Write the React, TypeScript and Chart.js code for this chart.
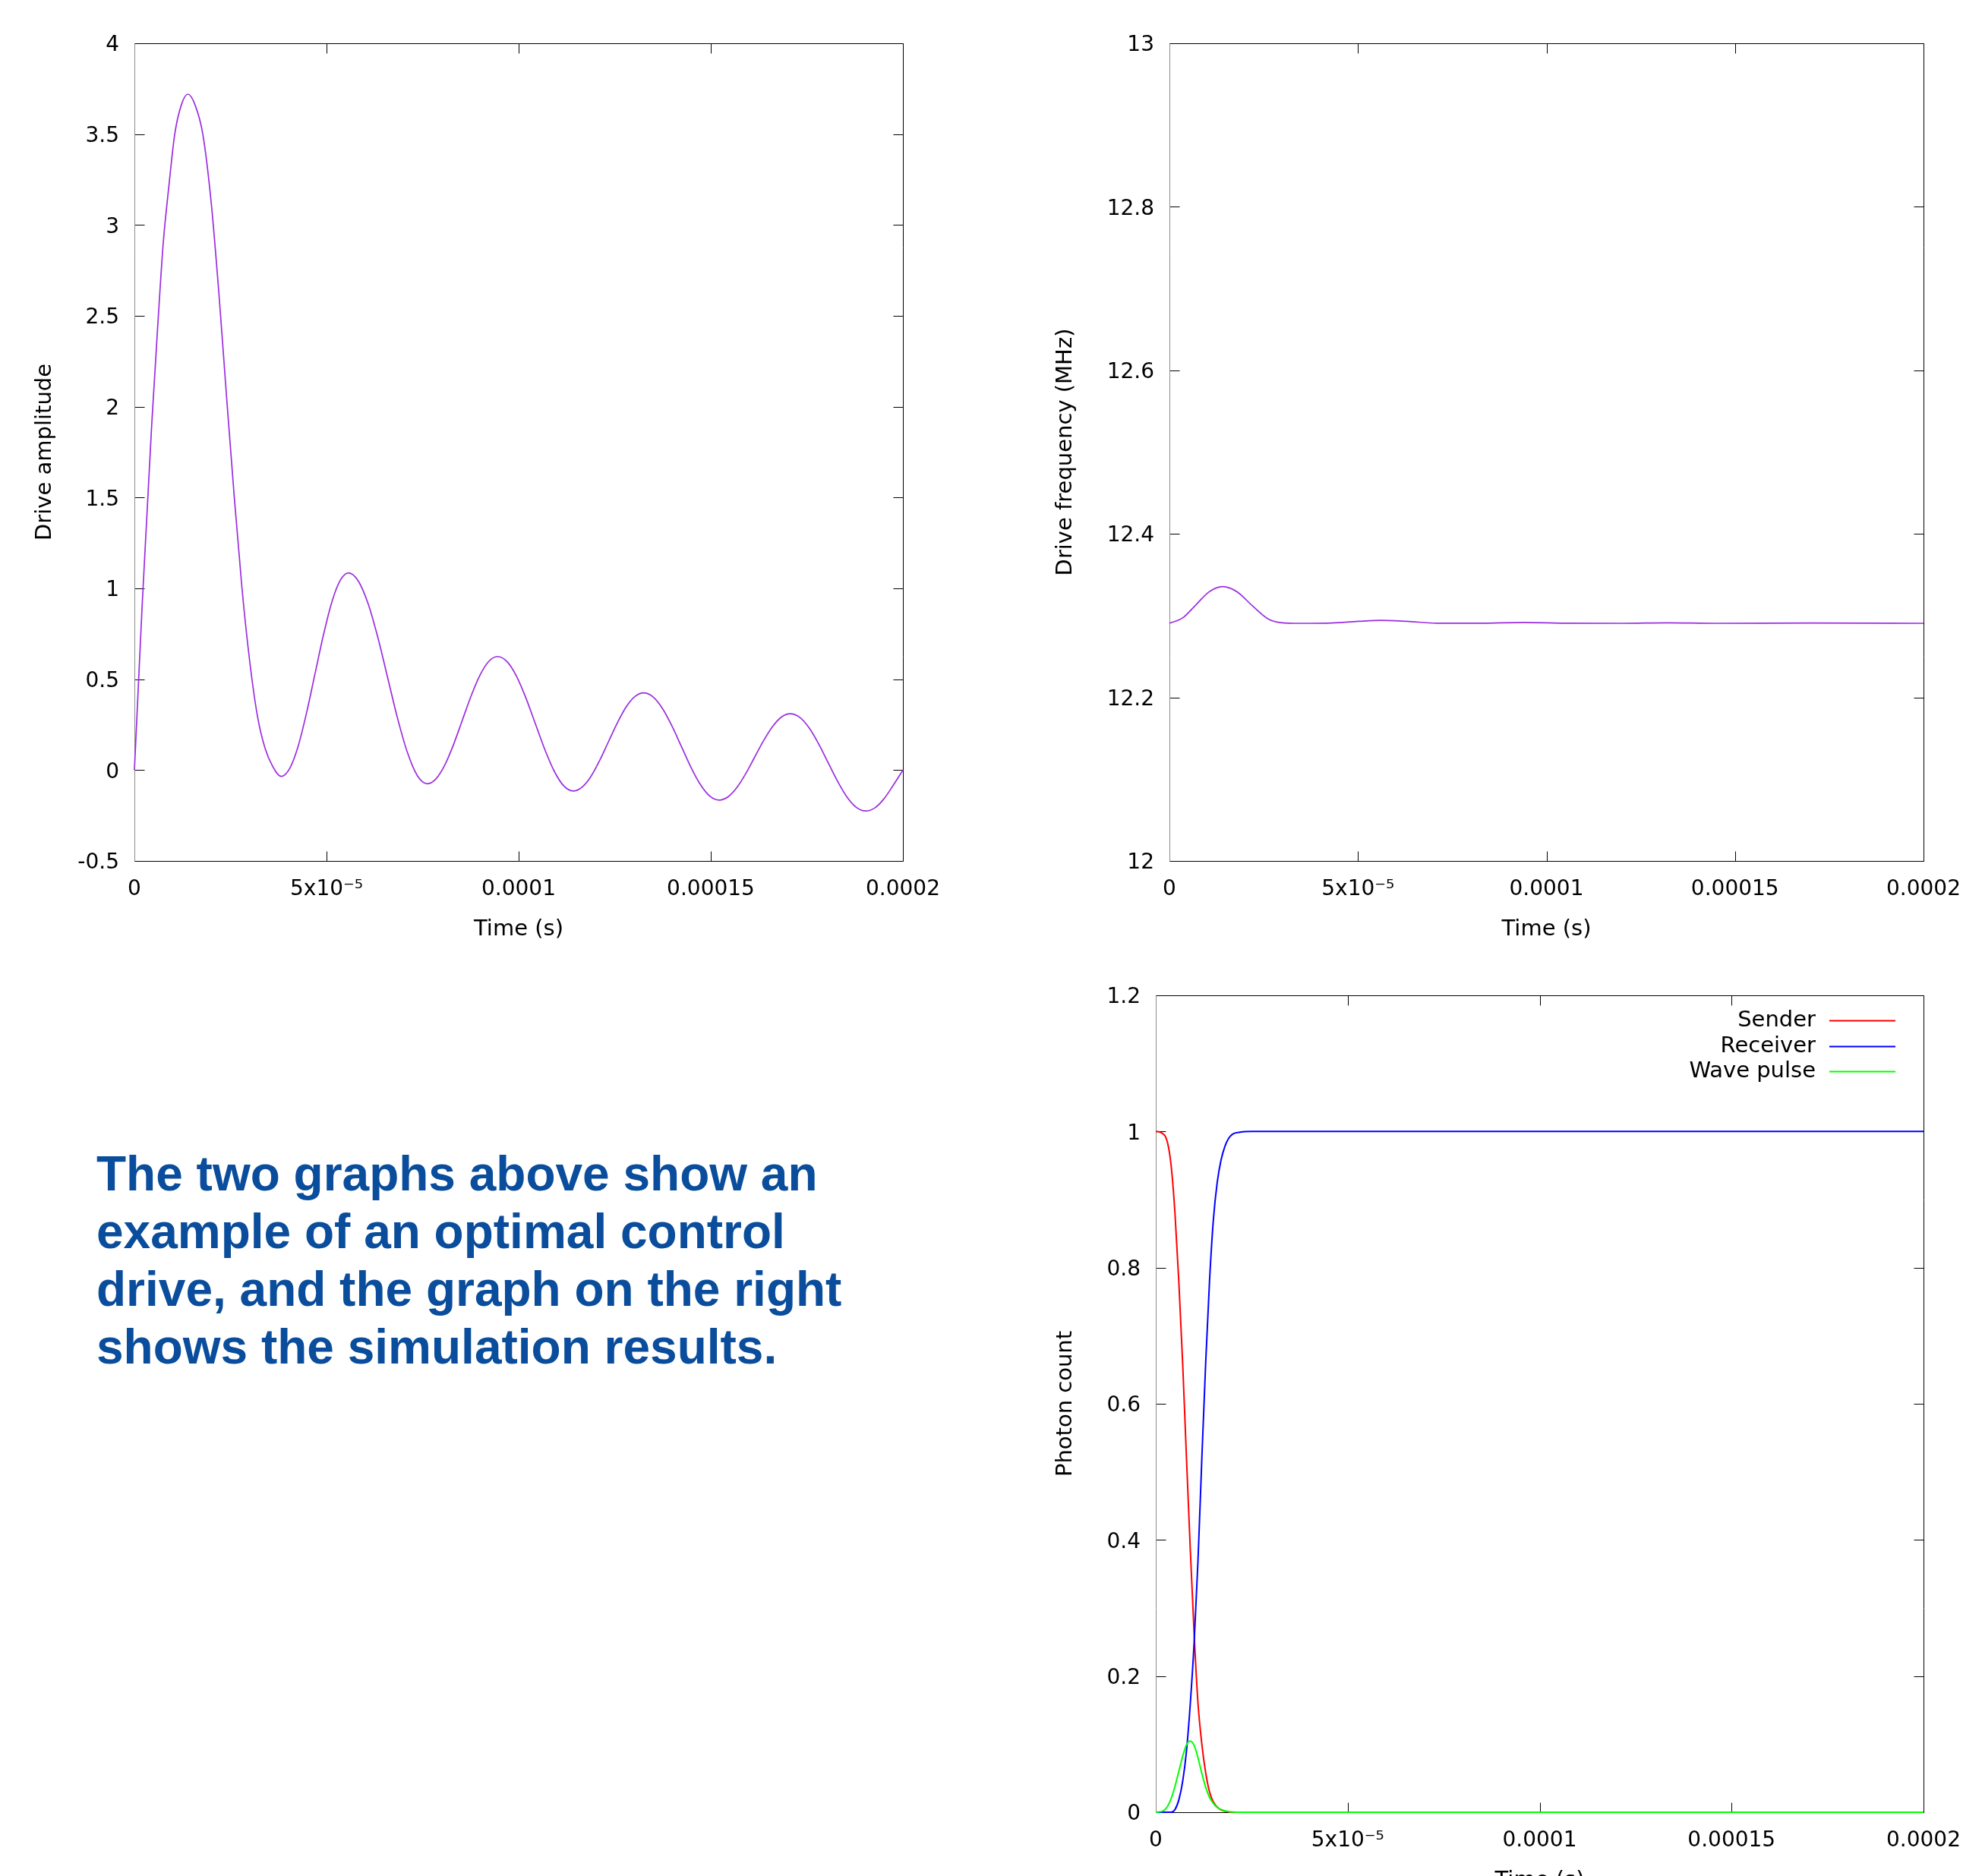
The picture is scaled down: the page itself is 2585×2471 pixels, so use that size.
import React, { useEffect, useRef } from 'react';
import { Chart, registerables } from 'chart.js';

Chart.register(...registerables);

const FONT = "'DejaVu Sans', sans-serif";
const FONT_SIZE = 28;
const TITLE_SIZE = 29;

// ---------- shared time axis (values in units of 1e-5 s) ----------
const timeTicks = [0, 5, 10, 15, 20];
const timeTickLabels = ['0', '5x10⁻⁵', '0.0001', '0.00015', '0.0002'];

// ---------- Drive amplitude ----------
const ampTicks = [-0.5, 0, 0.5, 1, 1.5, 2, 2.5, 3, 3.5, 4];
const ampTickLabels = ['-0.5', '0', '0.5', '1', '1.5', '2', '2.5', '3', '3.5', '4'];
const ampTime = [
  0, 0.1, 0.2, 0.33, 0.45, 0.6, 0.75, 0.9, 1.05, 1.22, 1.39, 1.58, 1.78, 2.0, 2.2, 2.4, 2.6,
  2.8, 3.0, 3.2, 3.4, 3.6, 3.82,
  4.039, 4.258, 4.476, 4.695, 4.914, 5.133, 5.351, 5.57,
  5.826, 6.083, 6.339, 6.595, 6.851, 7.108, 7.364, 7.62,
  7.849, 8.078, 8.306, 8.535, 8.764, 8.993, 9.221, 9.45,
  9.696, 9.943, 10.189, 10.435, 10.681, 10.928, 11.174, 11.42,
  11.649, 11.878, 12.106, 12.335, 12.564, 12.793, 13.021, 13.25,
  13.496, 13.743, 13.989, 14.235, 14.481, 14.728, 14.974, 15.22,
  15.451, 15.683, 15.914, 16.145, 16.376, 16.608, 16.839, 17.07,
  17.315, 17.56, 17.805, 18.05, 18.295, 18.54, 18.785, 19.03,
  19.27, 19.5, 19.75, 20.0,
];
const ampValue = [
  0, 0.45, 0.9, 1.42, 1.9, 2.42, 2.9, 3.22, 3.5, 3.66, 3.72, 3.66, 3.5, 3.12, 2.62, 2.05, 1.5,
  1.0, 0.6, 0.3, 0.12, 0.02, -0.035,
  0.008, 0.129, 0.311, 0.525, 0.739, 0.921, 1.042, 1.085,
  1.041, 0.915, 0.727, 0.505, 0.283, 0.095, -0.031, -0.075,
  -0.048, 0.028, 0.141, 0.275, 0.409, 0.522, 0.598, 0.625,
  0.597, 0.517, 0.397, 0.255, 0.113, -0.007, -0.087, -0.115,
  -0.094, -0.036, 0.052, 0.155, 0.258, 0.346, 0.404, 0.425,
  0.403, 0.339, 0.243, 0.13, 0.017, -0.079, -0.143, -0.165,
  -0.147, -0.095, -0.018, 0.0725, 0.163, 0.24, 0.292, 0.31,
  0.29, 0.232, 0.145, 0.0425, -0.06, -0.147, -0.205, -0.225,
  -0.208, -0.16, -0.083, 0.0,
];

// ---------- Drive frequency ----------
const freqTicks = [12, 12.2, 12.4, 12.6, 12.8, 13];
const freqTickLabels = ['12', '12.2', '12.4', '12.6', '12.8', '13'];
const freqTime = [
  0, 0.35, 0.7, 1.05, 1.41, 1.8, 2.2, 2.6, 2.95, 3.5, 4.3, 5.0, 5.6, 6.3, 7.1, 8.2,
  9.4, 10.6, 12.0, 13.2, 14.5, 17.0, 20.0,
];
const freqValue = [
  12.2906, 12.2972, 12.3131, 12.329, 12.3355, 12.329, 12.312, 12.2965, 12.2915, 12.2906,
  12.291, 12.293, 12.2942, 12.293, 12.2908, 12.2907, 12.2917, 12.2907, 12.2906, 12.2912,
  12.2906, 12.2909, 12.2906,
];

// ---------- Photon count ----------
const photonTicks = [0, 0.2, 0.4, 0.6, 0.8, 1, 1.2];
const photonTickLabels = ['0', '0.2', '0.4', '0.6', '0.8', '1', '1.2'];
const seriesNames = ['Sender', 'Receiver', 'Wave pulse'];
const seriesColors = ['#ff0000', '#0000ff', '#00ff00'];
const senderTime = [
  0, 0.15, 0.3, 0.4, 0.5, 0.6, 0.7, 0.8, 0.9, 1.006, 1.1, 1.2, 1.3, 1.4, 1.5, 1.65, 1.85,
  2.0, 5, 10, 15, 20,
];
const senderValue = [
  1.0, 0.998, 0.985, 0.95, 0.88, 0.78, 0.66, 0.52, 0.385, 0.254, 0.16, 0.1, 0.058, 0.03,
  0.015, 0.005, 0.001, 0, 0, 0, 0, 0,
];
const receiverTime = [
  0, 0.4, 0.5, 0.6, 0.7, 0.8, 0.9, 1.0, 1.1, 1.2, 1.3, 1.4, 1.5, 1.6, 1.7, 1.8, 1.9, 2.0,
  2.2, 2.5, 5, 10, 15, 20,
];
const receiverValue = [
  0, 0, 0.004, 0.018, 0.045, 0.09, 0.16, 0.25, 0.37, 0.52, 0.66, 0.78, 0.87, 0.925, 0.958,
  0.978, 0.99, 0.996, 0.999, 1.0, 1.0, 1.0, 1.0, 1.0,
];
const pulseTime = [
  0, 0.2, 0.3, 0.4, 0.5, 0.6, 0.7, 0.8, 0.89, 1.0, 1.1, 1.2, 1.3, 1.4, 1.5, 1.6, 1.8, 2.1,
  5, 10, 15, 20,
];
const pulseValue = [
  0, 0.002, 0.008, 0.02, 0.038, 0.06, 0.082, 0.099, 0.1045, 0.098, 0.08, 0.057, 0.037,
  0.022, 0.013, 0.007, 0.002, 0, 0, 0, 0, 0,
];

const mainText = [
  'The two graphs above show an',
  'example of an optimal control',
  'drive, and the graph on the right',
  'shows the simulation results.',
];

// ---------- helpers ----------
const toPoints = (xs: number[], ys: number[]) => xs.map((x, i) => ({ x, y: ys[i] }));

const framePlugin = {
  id: 'gnuFrame',
  beforeDatasetsDraw(chart: any) {
    const { ctx, chartArea: a, scales } = chart;
    const L = Math.round(a.left) + 0.5;
    const R = Math.round(a.right) + 0.5;
    const T = Math.round(a.top) + 0.5;
    const B = Math.round(a.bottom) + 0.5;
    const len = 13;
    ctx.save();
    ctx.lineWidth = 1;
    ctx.strokeStyle = '#000';
    ctx.beginPath();
    for (const t of scales.x.ticks) {
      const px = Math.round(scales.x.getPixelForValue(t.value)) + 0.5;
      ctx.moveTo(px, B);
      ctx.lineTo(px, B - len);
      ctx.moveTo(px, T);
      ctx.lineTo(px, T + len);
    }
    for (const t of scales.y.ticks) {
      const py = Math.round(scales.y.getPixelForValue(t.value)) + 0.5;
      ctx.moveTo(L, py);
      ctx.lineTo(L + len, py);
      ctx.moveTo(R, py);
      ctx.lineTo(R - len, py);
    }
    ctx.stroke();
    ctx.beginPath();
    ctx.moveTo(L, T);
    ctx.lineTo(R, T);
    ctx.lineTo(R, B);
    ctx.lineTo(L, B);
    ctx.stroke();
    ctx.strokeStyle = '#8c8c8c';
    ctx.beginPath();
    ctx.moveTo(L, T);
    ctx.lineTo(L, B);
    ctx.stroke();
    ctx.restore();
  },
};

const makeKeyPlugin = () => ({
  id: 'gnuKey',
  afterDatasetsDraw(chart: any) {
    const { ctx, chartArea: a } = chart;
    ctx.save();
    ctx.font = `${TITLE_SIZE}px ${FONT}`;
    ctx.textAlign = 'right';
    ctx.textBaseline = 'middle';
    ctx.fillStyle = '#000';
    chart.data.datasets.forEach((ds: any, i: number) => {
      const y = Math.round(a.top + 33 + i * 33.5) + 0.5;
      const lineEnd = a.right - 37;
      const lineStart = lineEnd - 87;
      ctx.fillText(ds.label, lineStart - 18, y);
      ctx.strokeStyle = ds.borderColor;
      ctx.lineWidth = 2;
      ctx.beginPath();
      ctx.moveTo(lineStart, y);
      ctx.lineTo(lineEnd, y);
      ctx.stroke();
    });
    ctx.restore();
  },
});

type Opts = {
  datasets: any[];
  yMin: number;
  yMax: number;
  yTicks: number[];
  yTickLabels: string[];
  yTitle: string;
  yWidth: number;
  yTitlePad: number;
  pad: { left: number; top: number; right: number; bottom: number };
  key?: boolean;
};

const X_HEIGHT = 110;

function buildConfig(o: Opts): any {
  const font = { family: FONT, size: FONT_SIZE };
  const titleFont = { family: FONT, size: TITLE_SIZE };
  const plugins: any[] = [framePlugin];
  if (o.key) plugins.push(makeKeyPlugin());
  return {
    type: 'line',
    data: { datasets: o.datasets },
    options: {
      responsive: false,
      animation: false,
      devicePixelRatio: 1,
      layout: { padding: o.pad },
      plugins: { legend: { display: false }, tooltip: { enabled: false } },
      elements: {
        point: { radius: 0 },
        line: { borderWidth: 2, cubicInterpolationMode: 'monotone' },
      },
      scales: {
        x: {
          type: 'linear',
          min: 0,
          max: 20,
          afterBuildTicks: (s: any) => {
            s.ticks = timeTicks.map((v) => ({ value: v }));
          },
          afterFit: (s: any) => {
            s.height = X_HEIGHT;
          },
          ticks: {
            callback: (_v: any, i: number) => timeTickLabels[i],
            padding: 21,
            maxRotation: 0,
            minRotation: 0,
            autoSkip: false,
            color: '#000',
            font,
          },
          grid: { display: false, drawTicks: false },
          border: { display: false },
          title: {
            display: true,
            text: 'Time (s)',
            color: '#000',
            font: titleFont,
            padding: { top: 0, bottom: 2 },
          },
        },
        y: {
          type: 'linear',
          min: o.yMin,
          max: o.yMax,
          afterBuildTicks: (s: any) => {
            s.ticks = o.yTicks.map((v) => ({ value: v }));
          },
          afterFit: (s: any) => {
            s.width = o.yWidth;
          },
          ticks: {
            callback: (_v: any, i: number) => o.yTickLabels[i],
            padding: 20,
            labelOffset: 3,
            autoSkip: false,
            color: '#000',
            font,
          },
          grid: { display: false, drawTicks: false },
          border: { display: false },
          title: {
            display: true,
            text: o.yTitle,
            color: '#000',
            font: titleFont,
            padding: { top: o.yTitlePad, bottom: 0 },
          },
        },
      },
    },
    plugins,
  };
}

function Plot(props: { left: number; top: number; width: number; height: number; opts: Opts }) {
  const ref = useRef<HTMLCanvasElement | null>(null);
  useEffect(() => {
    if (!ref.current) return;
    const chart = new Chart(ref.current, buildConfig(props.opts));
    return () => chart.destroy();
  }, []);
  return (
    <canvas
      ref={ref}
      width={props.width}
      height={props.height}
      style={{
        position: 'absolute',
        left: props.left,
        top: props.top,
        width: props.width,
        height: props.height,
        display: 'block',
      }}
    />
  );
}

const purple = '#9b2de0';

export default function App() {
  const ampOpts: Opts = {
    datasets: [
      {
        label: 'Drive amplitude',
        data: toPoints(ampTime, ampValue),
        borderColor: purple,
        borderWidth: 1.7,
        clip: 4,
      },
    ],
    yMin: -0.5,
    yMax: 4,
    yTicks: ampTicks,
    yTickLabels: ampTickLabels,
    yTitle: 'Drive amplitude',
    yWidth: 177,
    yTitlePad: 42,
    pad: { left: 0, top: 57, right: 111, bottom: 1260 - 1134 - X_HEIGHT },
  };
  const freqOpts: Opts = {
    datasets: [
      {
        label: 'Drive frequency',
        data: toPoints(freqTime, freqValue),
        borderColor: purple,
        borderWidth: 1.7,
        clip: 4,
      },
    ],
    yMin: 12,
    yMax: 13,
    yTicks: freqTicks,
    yTickLabels: freqTickLabels,
    yTitle: 'Drive frequency (MHz)',
    yWidth: 240,
    yTitlePad: 86,
    pad: { left: 0, top: 57, right: 152, bottom: 1260 - 1134 - X_HEIGHT },
  };
  const photonOpts: Opts = {
    datasets: [
      {
        label: seriesNames[0],
        data: toPoints(senderTime, senderValue),
        borderColor: seriesColors[0],
        clip: 4,
        order: 2,
      },
      {
        label: seriesNames[1],
        data: toPoints(receiverTime, receiverValue),
        borderColor: seriesColors[1],
        clip: 4,
        order: 1,
      },
      {
        label: seriesNames[2],
        data: toPoints(pulseTime, pulseValue),
        borderColor: seriesColors[2],
        clip: 4,
        order: 0,
      },
    ],
    yMin: 0,
    yMax: 1.2,
    yTicks: photonTicks,
    yTickLabels: photonTickLabels,
    yTitle: 'Photon count',
    yWidth: 222,
    yTitlePad: 86,
    pad: { left: 0, top: 51, right: 152, bottom: 1300 - 1127 - X_HEIGHT },
    key: true,
  };

  return (
    <div
      style={{
        position: 'fixed',
        left: 0,
        top: 0,
        width: 2585,
        height: 2471,
        overflow: 'hidden',
        background: '#fff',
      }}
    >
      <Plot left={0} top={0} width={1300} height={1260} opts={ampOpts} />
      <Plot left={1300} top={0} width={1385} height={1260} opts={freqOpts} />
      <Plot left={1300} top={1260} width={1385} height={1300} opts={photonOpts} />
      <div
        style={{
          position: 'absolute',
          left: 127,
          top: 1508,
          fontFamily: "'Liberation Sans', Arial, sans-serif",
          fontWeight: 'bold',
          fontSize: 64,
          lineHeight: '76px',
          color: '#0a4d9c',
          whiteSpace: 'nowrap',
        }}
      >
        {mainText.map((line, i) => (
          <div key={i}>{line}</div>
        ))}
      </div>
    </div>
  );
}
